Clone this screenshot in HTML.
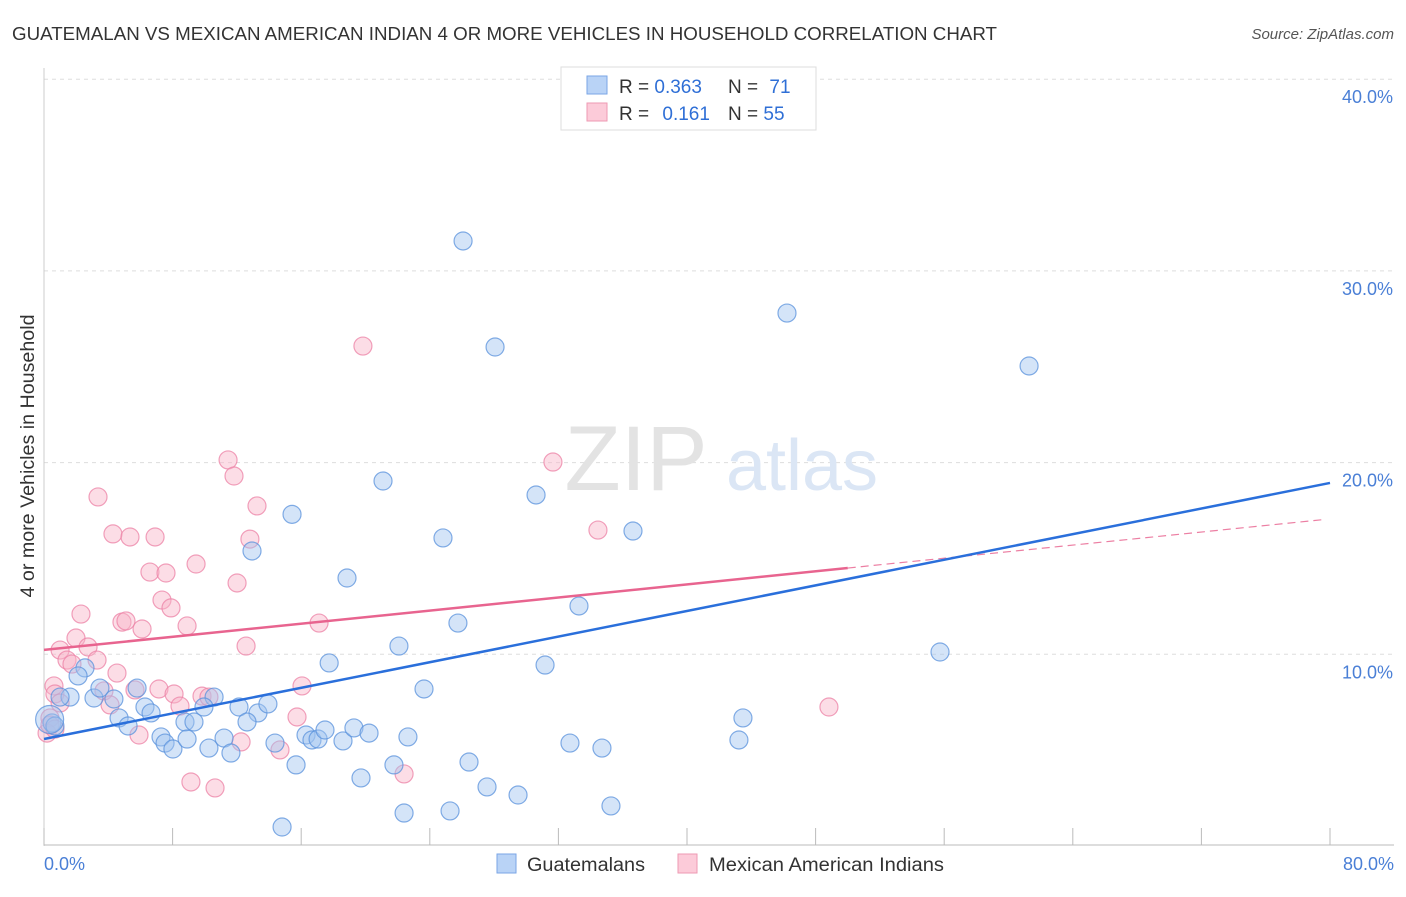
<!DOCTYPE html>
<html><head><meta charset="utf-8"><style>
body{margin:0;background:#fff;font-family:"Liberation Sans",sans-serif;}
svg text{font-family:"Liberation Sans",sans-serif;}
</style></head><body>
<svg width="1406" height="892" xmlns="http://www.w3.org/2000/svg">
<text x="12" y="40" font-size="18" fill="#333" textLength="985" lengthAdjust="spacingAndGlyphs">GUATEMALAN VS MEXICAN AMERICAN INDIAN 4 OR MORE VEHICLES IN HOUSEHOLD CORRELATION CHART</text>
<text x="1394" y="39" font-size="15" fill="#555" font-style="italic" text-anchor="end">Source: ZipAtlas.com</text>
<g id="grid"></g>
<g><text x="636" y="490" font-size="92" fill="#e3e3e3" font-family="Liberation Serif" text-anchor="middle">ZIP</text><text x="802" y="490" font-size="72" fill="#dbe6f5" text-anchor="middle">atlas</text></g>
<line x1="44" y1="68" x2="44" y2="846" stroke="#ccc"/>
<line x1="44" y1="845" x2="1394" y2="845" stroke="#bbb"/>
<g id="xticks"></g>
<g id="ylabels"></g>
<text x="34" y="456" font-size="19" fill="#333" text-anchor="middle" textLength="283" lengthAdjust="spacingAndGlyphs" transform="rotate(-90 34 456)">4 or more Vehicles in Household</text>
<text x="44" y="870" font-size="18" fill="#4a7fd6">0.0%</text>
<text x="1394" y="870" font-size="18" fill="#4a7fd6" text-anchor="end">80.0%</text>
<g id="pink"></g>
<g id="blue"></g>
<g id="trends"></g>
<g>
<rect x="561" y="67" width="255" height="63" fill="#fff" stroke="#ddd"/>
<rect x="587" y="76" width="20" height="18" fill="#b9d3f6" stroke="#7aa6e6"/>
<rect x="587" y="103" width="20" height="18" fill="#fccbd9" stroke="#ee9ab3"/>
<text x="619" y="93" font-size="19" fill="#333">R = <tspan fill="#2f6fd6">0.363</tspan></text>
<text x="728" y="93" font-size="19" fill="#333">N = <tspan fill="#2f6fd6" dx="6">71</tspan></text>
<text x="619" y="120" font-size="19" fill="#333">R = <tspan fill="#2f6fd6" dx="8">0.161</tspan></text>
<text x="728" y="120" font-size="19" fill="#333">N = <tspan fill="#2f6fd6">55</tspan></text>
</g>
<g><rect x="497" y="854" width="19" height="19" fill="#b9d3f6" stroke="#7aa6e6"/><text x="527" y="871" font-size="19" fill="#333" textLength="118" lengthAdjust="spacingAndGlyphs">Guatemalans</text></g>
<g><rect x="678" y="854" width="19" height="19" fill="#fccbd9" stroke="#ee9ab3"/><text x="709" y="871" font-size="19" fill="#333" textLength="235" lengthAdjust="spacingAndGlyphs">Mexican American Indians</text></g>
</svg>
<script>
const blueX=[26.07,28.06,46.22,61.28,21.09,30.61,15.43,24.82,36.64,12.94,18.85,33.28,25.75,22.08,17.74,31.17,55.74,2.55,2.12,23.64,43.48,43.23,3.11,1.62,1.0,3.48,5.79,4.35,6.28,6.66,4.67,5.23,8.77,9.33,10.58,9.95,12.13,13.31,13.93,12.63,0.5,0.68,7.28,7.53,8.02,8.9,10.26,11.2,11.63,14.37,16.3,16.67,17.05,17.48,18.6,19.28,20.22,22.64,21.77,15.68,19.72,26.44,27.56,29.49,32.72,34.71,35.27,22.4,25.26,14.81,0.35];
const blueY=[31.56,26.03,27.8,25.04,19.04,18.31,17.3,16.07,16.43,15.39,13.98,12.52,11.63,10.43,9.55,9.44,10.12,9.29,8.87,8.19,6.68,5.53,7.72,7.77,7.77,8.24,8.24,7.67,7.25,6.94,6.68,6.26,6.47,6.47,7.77,7.25,7.25,6.94,7.41,6.47,6.42,6.26,5.69,5.37,5.06,5.58,5.11,5.63,4.85,5.37,5.79,5.53,5.58,6.05,5.48,6.16,5.89,5.69,4.23,4.23,3.55,4.38,3.08,2.66,5.37,5.11,2.09,1.72,1.83,0.99,6.6];
const pinkX=[19.84,11.45,11.82,31.66,3.36,13.25,4.29,5.35,6.91,12.81,34.46,9.46,6.59,7.59,12.01,7.34,7.9,2.3,4.85,5.1,6.1,8.9,17.11,12.57,1.99,2.74,1.0,3.3,1.43,1.74,4.54,0.62,0.68,3.73,5.66,7.15,8.09,9.83,10.26,16.05,4.11,8.46,1.0,0.37,15.74,48.83,5.91,12.26,14.68,22.4,9.14,10.64,0.19,0.37,0.68];
const pinkY=[26.08,20.14,19.3,20.03,18.21,17.74,16.28,16.12,16.12,16.01,16.48,14.71,14.29,14.24,13.72,12.83,12.42,12.1,11.68,11.74,11.32,11.48,11.63,10.43,10.85,10.38,10.22,9.7,9.7,9.49,9.02,8.35,7.93,8.09,8.14,8.19,7.93,7.82,7.77,8.35,7.36,7.3,7.46,6.68,6.73,7.25,5.79,5.43,5.01,3.76,3.34,3.03,5.89,6.31,6.1];
const yTicks=[10,20,30,40];
const yTickLabels=["10.0%","20.0%","30.0%","40.0%"];
const xTicks=[0,8,16,24,32,40,48,56,64,72,80];
const blueTrend=[5.58,18.94];
const pinkTrend=[10.23,0.0854];
const pinkSolidEnd=50, pinkDashEnd=79.7;

const NS="http://www.w3.org/2000/svg";
const xs=v=>44+v/80*1286, ys=v=>846-v*19.17;
function mk(tag,attrs,parent){const e=document.createElementNS(NS,tag);for(const k in attrs)e.setAttribute(k,attrs[k]);parent.appendChild(e);return e;}
const grid=document.getElementById('grid'),yl=document.getElementById('ylabels'),xt=document.getElementById('xticks');
yTicks.forEach((t,i)=>{
  const l=mk('line',{x1:44,x2:1394,y1:ys(t),y2:ys(t),stroke:'#ddd','stroke-dasharray':'4,4'},grid);
  
  
  const tx=mk('text',{x:1393,y:ys(t)+24,'font-size':18,fill:'#4a7fd6','text-anchor':'end'},yl);
  tx.textContent=yTickLabels[i];
  
  
});
xTicks.forEach(t=>{
  const l=mk('line',{x1:xs(t),x2:xs(t),y1:828,y2:845,stroke:'#bbb'},xt);
  
  
});
const pg=document.getElementById('pink'),bg=document.getElementById('blue');
pinkX.forEach((x,i)=>{
  const c=mk('circle',{cx:xs(x),cy:ys(pinkY[i]),r:9,fill:'rgba(248,180,200,0.45)',stroke:'rgba(236,130,165,0.75)','stroke-width':1.2},pg);
  
  
});
blueX.forEach((x,i)=>{
  const c=mk('circle',{cx:xs(x),cy:ys(blueY[i]),r:i===blueX.length-1?14:9,fill:'rgba(160,195,240,0.45)',stroke:'rgba(90,145,220,0.75)','stroke-width':1.2},bg);
  
  
});
const tg=document.getElementById('trends');
const pf=x=>pinkTrend[0]+pinkTrend[1]*x;
const pd=mk('line',{x1:xs(pinkSolidEnd),y1:ys(pf(pinkSolidEnd)),x2:xs(pinkDashEnd),y2:ys(pf(pinkDashEnd)),stroke:'#ec7fa3','stroke-width':1.2,'stroke-dasharray':'8,5'},tg);


const ps=mk('line',{x1:xs(0),y1:ys(pf(0)),x2:xs(pinkSolidEnd),y2:ys(pf(pinkSolidEnd)),stroke:'#e8648f','stroke-width':2.5},tg);


const bl=mk('line',{x1:xs(0),y1:ys(blueTrend[0]),x2:xs(80),y2:ys(blueTrend[1]),stroke:'#2a6fdb','stroke-width':2.5},tg);


</script>
</body></html>
